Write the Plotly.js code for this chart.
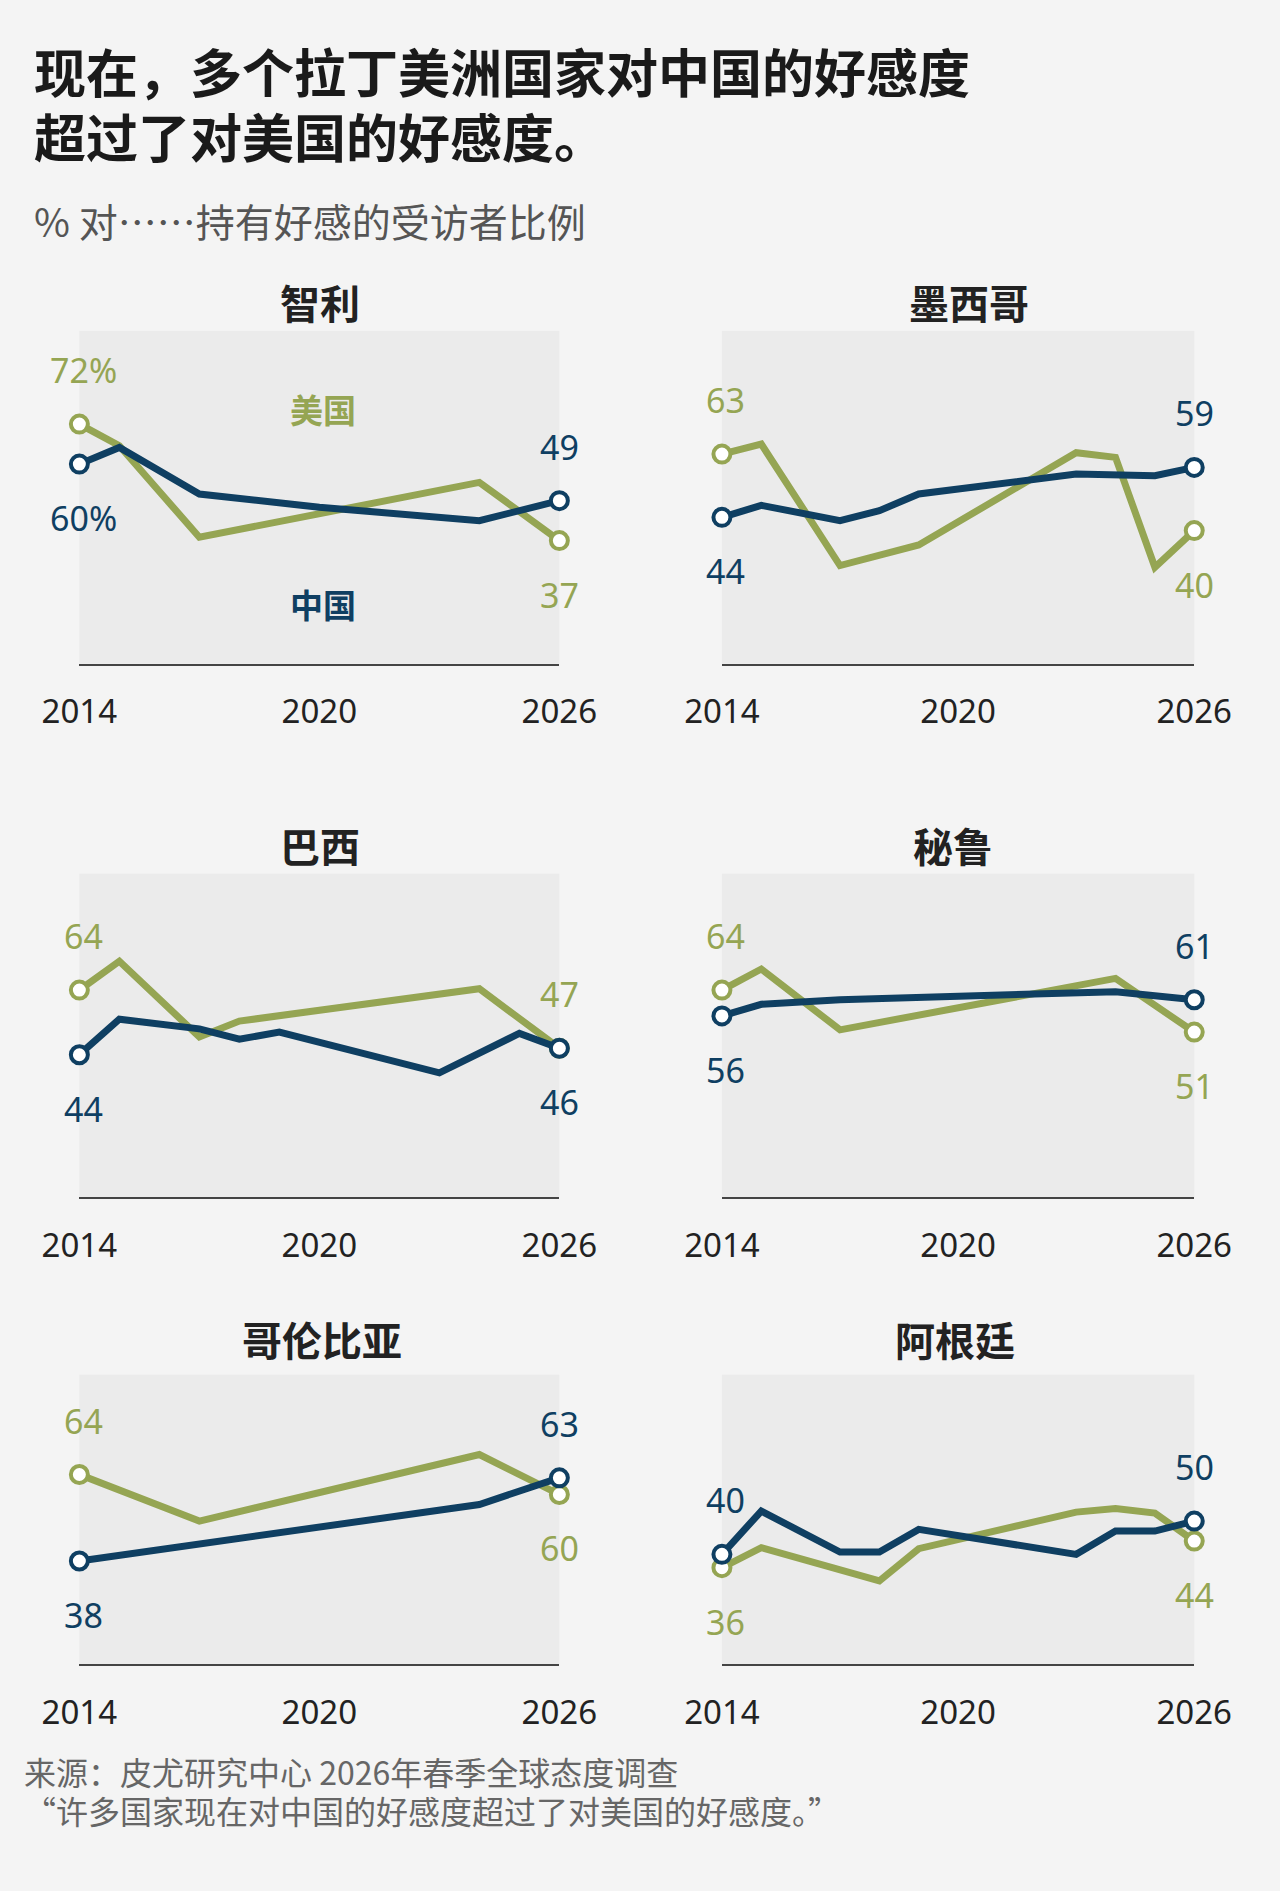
<!DOCTYPE html>
<html>
<head>
<meta charset="utf-8">
<script src="https://cdn.plot.ly/plotly-3.0.1.min.js"></script>
<style>body{margin:0;background:#f4f4f4}</style>
</head>
<body>
<div id="chart" style="width:1280px;height:1891px"></div>
<script>
// 数据
const countries = ['智利', '墨西哥', '巴西', '秘鲁', '哥伦比亚', '阿根廷'];

const chileUsYears = [2014, 2015, 2017, 2024, 2026];
const chileUs = [72, 65.5, 38, 54.5, 37];
const chileCnYears = [2014, 2015, 2017, 2020, 2024, 2026];
const chileCn = [60, 65, 51, 47, 43, 49];

const mexicoUsYears = [2014, 2015, 2017, 2019, 2023, 2024, 2025, 2026];
const mexicoUs = [63, 66, 29.5, 35.7, 63.4, 62, 29, 40];
const mexicoCnYears = [2014, 2015, 2017, 2018, 2019, 2023, 2025, 2026];
const mexicoCn = [44, 47.6, 43, 46, 51, 57, 56.5, 59];

const brazilUsYears = [2014, 2015, 2017, 2018, 2024, 2026];
const brazilUs = [64, 72.9, 49.5, 54.4, 64.4, 46];
const brazilCnYears = [2014, 2015, 2017, 2018, 2019, 2023, 2025, 2026];
const brazilCn = [44, 55, 52, 48.8, 51, 38.4, 50.6, 46];

const peruUsYears = [2014, 2015, 2017, 2024, 2026];
const peruUs = [64, 70.5, 51.7, 67.6, 51];
const peruCnYears = [2014, 2015, 2017, 2024, 2026];
const peruCn = [56, 59.6, 61, 63.5, 61];

const colombiaUsYears = [2014, 2017, 2024, 2026];
const colombiaUs = [64, 50, 70, 58];
const colombiaCnYears = [2014, 2024, 2026];
const colombiaCn = [38, 55, 63];

const argentinaUsYears = [2014, 2015, 2018, 2019, 2023, 2024, 2025, 2026];
const argentinaUs = [36, 42, 32, 41.7, 52.7, 53.8, 52.4, 44];
const argentinaCnYears = [2014, 2015, 2017, 2018, 2019, 2023, 2024, 2025, 2026];
const argentinaCn = [40, 53, 40.7, 40.7, 47.5, 40, 47, 47, 50];

// 端点标签：[起点美国, 起点中国, 终点美国, 终点中国]
const endLabels = [
    ['72%', '60%', '37', '49'],
    ['63', '44', '40', '59'],
    ['64', '44', '47', '46'],
    ['64', '56', '51', '61'],
    ['64', '38', '60', '63'],
    ['36', '40', '44', '50']
];
// 标签位置：1 = 上方，-1 = 下方
const endSides = [
    [1, -1, -1, 1],
    [1, -1, -1, 1],
    [1, -1, 1, -1],
    [1, -1, -1, 1],
    [1, -1, -1, 1],
    [-1, 1, -1, 1]
];

const US = '#95a553';
const CN = '#0f3f62';
const W = 1280, H = 1891;

const series = [
    [chileUsYears, chileUs, chileCnYears, chileCn],
    [mexicoUsYears, mexicoUs, mexicoCnYears, mexicoCn],
    [brazilUsYears, brazilUs, brazilCnYears, brazilCn],
    [peruUsYears, peruUs, peruCnYears, peruCn],
    [colombiaUsYears, colombiaUs, colombiaCnYears, colombiaCn],
    [argentinaUsYears, argentinaUs, argentinaCnYears, argentinaCn]
];

const xDomains = [[0.062, 0.437], [0.564, 0.933]];
const yDomains = [[0.649, 0.825], [0.367, 0.538], [0.120, 0.273]];
const yRanges = [[0, 100], [0, 100], [7, 94]];
const titleY = [302, 845, 1339];
const titleX = [[320, 969], [320, 953], [322, 955]];

const traces = [];
const layout = {
    width: W, height: H,
    margin: {l: 0, r: 0, t: 0, b: 0},
    paper_bgcolor: '#f4f4f4',
    plot_bgcolor: '#ebebeb',
    showlegend: false,
    font: {family: 'Noto Sans CJK SC, sans-serif', color: '#333'},
    annotations: []
};

function paperNote(text, x, y, opts) {
    layout.annotations.push(Object.assign({
        text: text, xref: 'paper', yref: 'paper',
        x: x / W, y: 1 - y / H, showarrow: false,
        xanchor: 'left', yanchor: 'middle'
    }, opts));
}

series.forEach((s, i) => {
    const n = i + 1;
    const row = Math.floor(i / 2), col = i % 2;
    const xa = 'x' + (n === 1 ? '' : n), ya = 'y' + (n === 1 ? '' : n);
    layout['xaxis' + (n === 1 ? '' : n)] = {
        domain: xDomains[col], range: [2014, 2026], anchor: ya,
        tickvals: [2014, 2020, 2026], ticks: '', showgrid: false, zeroline: false,
        showline: true, linecolor: '#444', linewidth: 2,
        tickfont: {size: 33, color: '#222', family: 'Noto Sans, sans-serif'}, ticklabelstandoff: 18
    };
    layout['yaxis' + (n === 1 ? '' : n)] = {
        domain: yDomains[row], range: yRanges[row], anchor: xa,
        showticklabels: false, showgrid: false, zeroline: false, ticks: ''
    };
    const pairs = [[s[0], s[1], US], [s[2], s[3], CN]];
    pairs.forEach(([xs, ys, c]) => {
        traces.push({
            x: xs, y: ys, xaxis: xa, yaxis: ya, type: 'scatter', mode: 'lines+markers',
            line: {color: c, width: 7},
            marker: {
                size: xs.map((_, k) => (k === 0 || k === xs.length - 1) ? 17 : 0),
                color: '#ffffff', opacity: 1, line: {color: c, width: 4}
            },
            cliponaxis: false, hoverinfo: 'skip'
        });
    });
    // 端点数值标签
    const pts = [
        [s[0][0], s[1][0], US], [s[2][0], s[3][0], CN],
        [s[0][s[0].length - 1], s[1][s[1].length - 1], US],
        [s[2][s[2].length - 1], s[3][s[3].length - 1], CN]
    ];
    pts.forEach(([x, y, c], k) => {
        layout.annotations.push({
            text: endLabels[i][k], x: x, y: y, xref: xa, yref: ya, showarrow: false,
            yshift: endSides[i][k] * 54, xshift: k < 2 ? 4 : 0,
            font: {size: 34, color: c, family: 'Noto Sans, sans-serif'}
        });
    });
    paperNote(countries[i], titleX[row][col], titleY[row], {
        xanchor: 'center', font: {size: 40, color: '#222', weight: 'bold'}
    });
});

// 智利图内的系列名
layout.annotations.push({text: '美国', x: 2020.1, y: 76.4, xref: 'x', yref: 'y', showarrow: false,
    font: {size: 33, color: US, weight: 'bold'}});
layout.annotations.push({text: '中国', x: 2020.1, y: 18, xref: 'x', yref: 'y', showarrow: false,
    font: {size: 33, color: CN, weight: 'bold'}});

paperNote('现在，多个拉丁美洲国家对中国的好感度', 32, 70, {font: {size: 52, color: '#1a1a1a', weight: 'bold'}});
paperNote('超过了对美国的好感度。', 32, 136, {font: {size: 52, color: '#1a1a1a', weight: 'bold'}});
paperNote('% 对……持有好感的受访者比例', 32, 220, {font: {size: 39, color: '#555'}});
paperNote('来源：皮尤研究中心 2026年春季全球态度调查', 22, 1771, {font: {size: 32, color: '#666'}});
paperNote('“许多国家现在对中国的好感度超过了对美国的好感度。”', 22, 1810, {font: {size: 32, color: '#666'}});

Plotly.newPlot('chart', traces, layout, {staticPlot: true});
</script>
</body>
</html>
